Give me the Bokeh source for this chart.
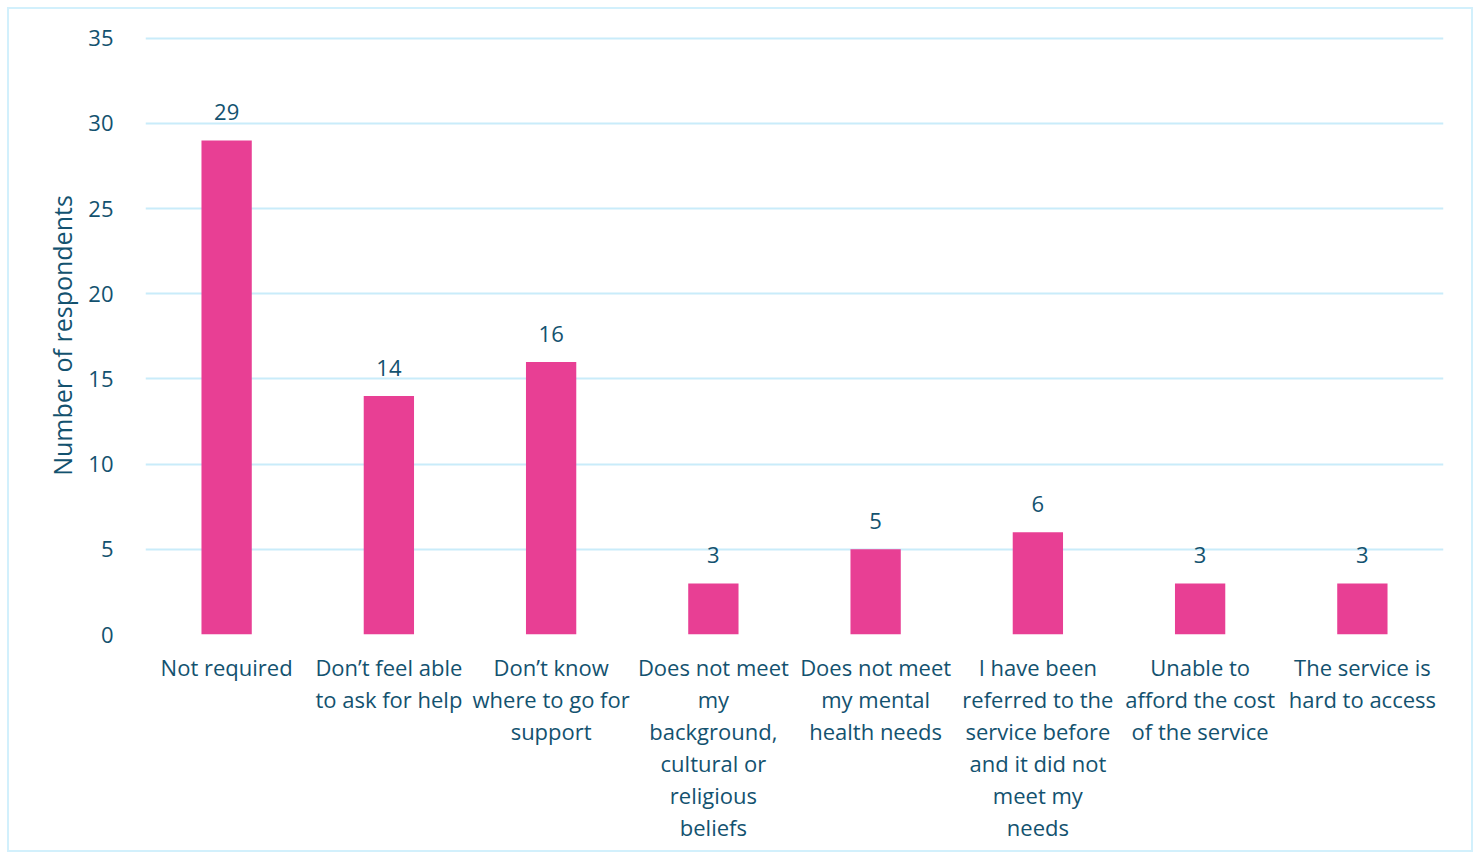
from bokeh.plotting import figure
from bokeh.models import ColumnDataSource, FixedTicker
from bokeh.core.properties import value
from bokeh.embed import file_html
from bokeh.resources import INLINE

categories = [
    "Not required",
    "Don\u2019t feel able\nto ask for help",
    "Don\u2019t know\nwhere to go for\nsupport",
    "Does not meet\nmy\nbackground,\ncultural or\nreligious\nbeliefs",
    "Does not meet\nmy mental\nhealth needs",
    "I have been\nreferred to the\nservice before\nand it did not\nmeet my\nneeds",
    "Unable to\nafford the cost\nof the service",
    "The service is\nhard to access",
]
counts = [29, 14, 16, 3, 5, 6, 3, 3]
y_ticks = [0, 5, 10, 15, 20, 25, 30, 35]

FONT = "Open Sans"
TXT = "#13526F"
BAR = "#E83F94"
GRID = "#C9ECFA"

src = ColumnDataSource(dict(cat=categories, val=counts, lab=[str(v) for v in counts]))

p = figure(x_range=categories, y_range=(0, 35.1), width=1466, height=845,
           output_backend="svg", toolbar_location=None,
           min_border_left=136, min_border_right=32, min_border_top=27,
           min_border_bottom=220)
p.styles = {"border": "2px solid #D2F0FC", "margin-left": "7px", "margin-top": "7px"}

p.vbar(x="cat", top="val", width=0.31, source=src, fill_color=BAR, line_color=None)
p.text(x="cat", y="val", text="lab", source=src, text_align="center",
       text_baseline="bottom", y_offset=-20, text_font=value(FONT),
       text_font_size="22px", text_color=TXT)

p.outline_line_color = None
p.xgrid.grid_line_color = None
p.ygrid.grid_line_color = GRID
p.ygrid.grid_line_width = 2
p.yaxis.ticker = FixedTicker(ticks=y_ticks)

for ax in (p.xaxis[0], p.yaxis[0]):
    ax.axis_line_color = None
    ax.major_tick_line_color = None
    ax.minor_tick_line_color = None
    ax.major_label_text_font = FONT
    ax.major_label_text_color = TXT
    ax.major_label_text_font_size = "22px"

p.xaxis.major_label_standoff = 11
p.xaxis.major_label_text_line_height = 1.07
p.yaxis.major_label_standoff = 26
p.yaxis.axis_label = "Number of respondents"
p.yaxis.axis_label_text_font = FONT
p.yaxis.axis_label_text_font_style = "normal"
p.yaxis.axis_label_text_font_size = "25px"
p.yaxis.axis_label_text_color = TXT
p.yaxis.axis_label_standoff = 6

open("out.html", "w").write(file_html(p, INLINE))
